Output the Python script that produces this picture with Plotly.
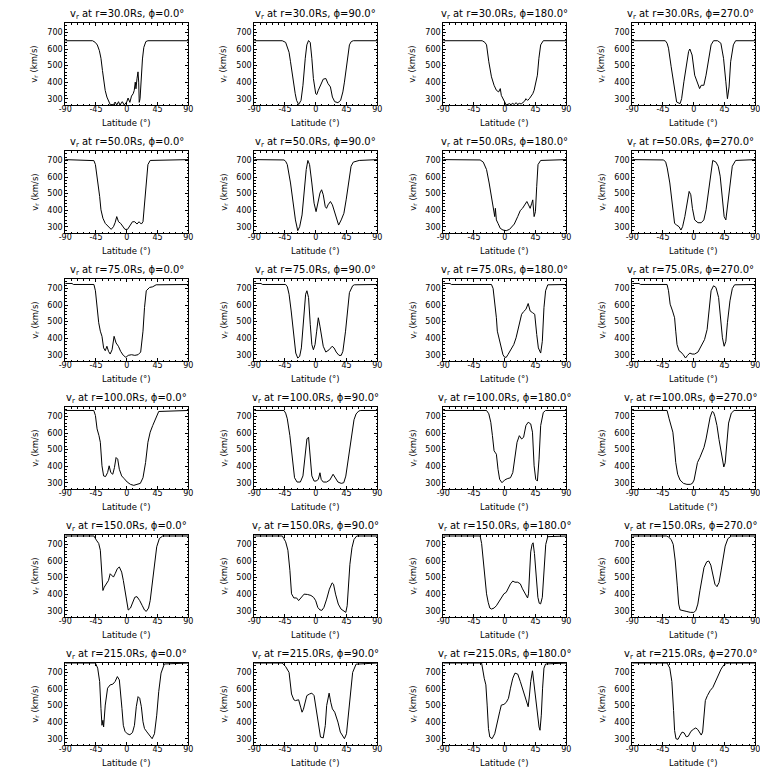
import plotly.graph_objects as go

radii = ["30.0", "50.0", "75.0", "100.0", "150.0", "215.0"]
phis = ["0.0", "90.0", "180.0", "270.0"]
x_ticks = [-90, -45, 0, 45, 90]
y_ticks = [300, 400, 500, 600, 700]
y_range = [262, 757]

# ---- r = 30 Rs ----
lat_r30_p0 = [-90, -50, -46, -43, -40, -37.7, -35.5, -33.8, -31.5, -29, -26, -24, -21.5, -19.4, -17, -14.6, -12, -10, -6.5, -3.6, 0, 2, 4.6, 7, 9.4, 11, 12.5, 13.5, 15, 16.5, 17.5, 18.3, 19.5, 21, 23, 25, 28, 31, 90]
v_r30_p0 = [650, 650, 640, 624, 590, 544, 470, 402, 350, 310, 275, 263, 265, 263, 280, 262, 282, 262, 282, 262, 280, 304, 278, 316, 330, 350, 400, 360, 420, 462, 400, 278, 300, 420, 540, 610, 645, 650, 650]
lat_r30_p90 = [-90, -49, -44, -41.6, -39, -36.9, -34.5, -32, -30, -28, -25, -21.5, -18.7, -15.3, -13, -10.5, -8, -5.7, -3.4, 0, 1.5, 3.8, 7, 11, 14.8, 18, 21.5, 24.4, 27.8, 32.5, 36.4, 39.7, 42, 44.5, 47, 49.3, 52, 55, 90]
v_r30_p90 = [650, 650, 640, 615, 580, 523, 450, 381, 330, 290, 265, 290, 381, 544, 625, 651, 639, 544, 422, 330, 325, 351, 381, 418, 422, 391, 371, 310, 282, 276, 290, 341, 400, 483, 570, 625, 645, 650, 650]
lat_r30_p180 = [-90, -33, -29, -26.6, -23.3, -19.4, -15.6, -12.2, -8.9, -6.5, -5, -3, 0, 2, 7, 9, 11.8, 14, 16.6, 19, 21.4, 24, 26, 29, 31, 33.4, 36, 38, 41, 43, 45.5, 47.8, 50, 52.6, 56.4, 90]
v_r30_p180 = [650, 650, 640, 625, 523, 432, 381, 351, 341, 361, 320, 300, 280, 262, 270, 264, 272, 264, 276, 266, 272, 268, 276, 285, 300, 290, 300, 310, 330, 351, 400, 442, 544, 625, 650, 650]
lat_r30_p270 = [-90, -41.6, -39, -36.9, -33, -28, -25, -20, -17.7, -14.4, -10.5, -7.5, -5.7, -2.4, 1.4, 5.3, 8.6, 11, 14.8, 18, 21.5, 25.4, 29, 35, 39.7, 43.6, 47, 49.3, 51.7, 54, 58, 61.3, 90]
v_r30_p270 = [650, 650, 635, 605, 493, 361, 280, 270, 300, 402, 523, 585, 600, 564, 442, 391, 361, 381, 381, 442, 523, 625, 650, 650, 635, 544, 402, 300, 371, 523, 625, 650, 650]

# ---- r = 50 Rs ----
lat_r50_p0 = [-90, -50.6, -48, -45.8, -42.5, -39.6, -37.7, -34.8, -31.4, -26.6, -22.8, -19.4, -17, -14.6, -12, -8.9, -6, -2.6, 1.2, 4.6, 8.4, 11.8, 15, 18, 21.4, 23.8, 26, 28.6, 31, 34.3, 60, 90]
v_r50_p0 = [705, 703, 699, 675, 584, 483, 402, 351, 320, 296, 284, 300, 324, 361, 330, 320, 304, 284, 284, 310, 330, 330, 316, 330, 316, 330, 442, 605, 675, 700, 702, 705]
lat_r50_p90 = [-90, -46.4, -44, -41.6, -36.9, -33, -29.7, -26.3, -23.5, -20, -16.8, -13.9, -11.5, -9, -5.7, -2.4, 0.5, 3.8, 6.2, 8.6, 11, 13.9, 15.8, 18, 21.5, 24.4, 27.8, 31, 33.5, 37.3, 41.2, 44.5, 48.3, 51.7, 55, 63.6, 90]
v_r50_p90 = [705, 703, 695, 675, 564, 442, 341, 276, 300, 371, 523, 645, 700, 675, 564, 442, 391, 462, 503, 523, 493, 422, 411, 432, 452, 432, 385, 351, 310, 341, 381, 462, 584, 665, 690, 700, 705]
lat_r50_p180 = [-90, -36, -31.4, -26.6, -22.8, -19.4, -17, -14.6, -13.7, -12.2, -9.8, -6.5, -2.6, 2.2, 7, 10.3, 14, 19, 22.8, 26, 29.5, 32.4, 34.8, 37.2, 39.6, 41, 43, 44.9, 46.8, 48.7, 52.6, 90]
v_r50_p180 = [705, 703, 690, 645, 564, 483, 411, 361, 411, 341, 320, 290, 280, 276, 284, 300, 316, 361, 398, 411, 432, 452, 432, 411, 442, 462, 361, 391, 544, 675, 700, 705]
lat_r50_p270 = [-90, -44, -41, -38.8, -35, -32, -28, -25, -21.5, -18.7, -16.3, -13, -9.6, -6.7, -4.3, -1.9, 1.4, 6.2, 11, 14.8, 18, 21.5, 24.4, 27.8, 32.5, 35.8, 38.7, 42, 44.5, 47, 49.3, 53, 56.4, 61.3, 90]
v_r50_p270 = [705, 703, 690, 655, 564, 442, 320, 310, 300, 280, 300, 361, 442, 513, 493, 411, 341, 324, 324, 341, 402, 503, 605, 700, 690, 665, 605, 483, 361, 341, 422, 564, 665, 700, 705]

# ---- r = 75 Rs ----
lat_r75_p0 = [-90, -80, -78, -48, -45.8, -43.4, -41, -38.6, -36.2, -33.8, -31.4, -29, -26.6, -24.2, -21.4, -18.5, -15.6, -12.2, -8.9, -5, -1.2, 2.2, 7, 11.8, 16.6, 20.4, 23.8, 26, 28.6, 33.4, 38, 43, 90]
v_r75_p0 = [730, 730, 724, 724, 686, 584, 493, 442, 411, 341, 324, 351, 320, 304, 330, 411, 371, 351, 320, 296, 284, 296, 300, 296, 300, 316, 442, 584, 686, 706, 710, 722, 724]
lat_r75_p90 = [-90, -80, -78, -44, -41.5, -39, -35.9, -32, -29.2, -26.3, -23.5, -21, -17.7, -14.8, -12.9, -10.5, -8, -5.7, -3.4, -1, 1.4, 3.8, 6.2, 8.6, 11, 14.8, 19.6, 24, 26.8, 30, 34, 37.3, 39.7, 43.6, 47, 49.3, 54, 56.5, 90]
v_r75_p90 = [730, 730, 724, 724, 710, 665, 564, 422, 310, 280, 290, 341, 523, 665, 686, 645, 483, 361, 330, 361, 442, 523, 472, 411, 351, 316, 330, 351, 341, 316, 296, 296, 320, 442, 584, 675, 716, 722, 724]
lat_r75_p180 = [-90, -80, -78, -19.4, -17, -14.6, -12.2, -10.8, -8.9, -7, -5, -2.6, -0.2, 2.2, 4.6, 9.4, 13.2, 16.6, 19, 21.4, 24.7, 27.6, 31, 34.3, 37.2, 40.6, 43.9, 46.8, 49.2, 52.6, 55, 57.4, 59.8, 63, 90]
v_r75_p180 = [730, 730, 724, 724, 700, 625, 523, 442, 411, 371, 330, 300, 285, 284, 300, 330, 361, 402, 442, 500, 544, 560, 574, 609, 564, 554, 544, 422, 341, 310, 381, 584, 686, 722, 724]
lat_r75_p270 = [-90, -80, -78, -39, -36.9, -34.5, -31, -28, -26.3, -24.4, -21.5, -18.7, -15.3, -12, -9, -5.7, -2.4, 1.4, 6.2, 11, 15.8, 19.6, 23, 25.4, 29, 32.5, 36.4, 39.7, 42, 44.5, 47, 49.3, 53, 56.5, 59.8, 90]
v_r75_p270 = [730, 730, 724, 724, 686, 605, 564, 523, 442, 361, 324, 316, 300, 280, 296, 310, 304, 304, 316, 351, 391, 452, 584, 686, 716, 706, 645, 523, 402, 351, 381, 493, 625, 700, 722, 724]

# ---- r = 100 Rs ----
lat_r100_p0 = [-90, -48.2, -45.8, -43.4, -40.6, -38.6, -36.2, -33.8, -31, -28, -25.7, -23.3, -20.4, -18, -15.6, -13.2, -10.8, -7.4, -3.6, 0.7, 5.5, 10.3, 15, 19.9, 23.8, 27.6, 31, 34.3, 38, 43, 46.8, 90]
v_r100_p0 = [736, 736, 706, 625, 584, 544, 402, 341, 337, 361, 402, 361, 351, 391, 452, 442, 381, 341, 324, 304, 290, 284, 290, 296, 330, 422, 544, 605, 645, 696, 730, 736]
lat_r100_p90 = [-90, -46.4, -44, -41.6, -37.8, -34.5, -31, -27.3, -22.5, -18.7, -15.3, -12.9, -10.5, -8, -5.7, -2.4, 0.5, 3.8, 6.2, 8, 11, 15.8, 20.6, 25.4, 29, 32.5, 37.3, 41, 44, 47, 50, 53, 56, 59, 63, 66, 90]
v_r100_p90 = [736, 736, 720, 686, 584, 442, 330, 304, 304, 341, 462, 564, 575, 442, 341, 310, 310, 320, 360, 320, 304, 304, 316, 351, 324, 304, 296, 300, 340, 430, 530, 620, 680, 715, 733, 736, 736]
lat_r100_p180 = [-90, -26.6, -23.3, -20.4, -18, -15.6, -13.5, -12.2, -9.8, -7.4, -4, -0.2, 3.6, 8.4, 11.8, 15, 18, 21.4, 24.7, 27.6, 31, 34.3, 38, 40.6, 43, 45.4, 47.8, 50.2, 52.6, 56.4, 59.8, 90]
v_r100_p180 = [736, 736, 716, 665, 584, 493, 480, 472, 381, 320, 300, 316, 324, 330, 361, 442, 544, 584, 564, 574, 645, 665, 655, 605, 402, 320, 310, 442, 645, 724, 736, 736]
lat_r100_p270 = [-90, -39, -36, -33, -30.5, -28, -26.3, -23.5, -20, -15, -10, -5, -2, 0.5, 3, 5.5, 9, 12, 15, 18, 21, 24, 27, 29, 31, 34, 37, 40, 42, 44, 46, 48, 51, 55, 59, 90]
v_r100_p270 = [736, 736, 686, 645, 605, 503, 422, 351, 316, 296, 290, 290, 296, 316, 361, 422, 452, 483, 513, 564, 625, 696, 730, 725, 700, 645, 560, 480, 420, 395, 420, 540, 660, 720, 736, 736]

# ---- r = 150 Rs ----
lat_r150_p0 = [-90, -48, -44.4, -41, -38.6, -36.2, -34.8, -32.9, -30, -26.6, -24.2, -21.8, -19.4, -17, -13.7, -10.8, -7.4, -5, -2.6, -0.2, 2.2, 5.5, 8.4, 11.8, 15, 19, 22.8, 26, 28.6, 31.9, 34.3, 37.2, 40.6, 43.9, 47.8, 52.6, 90]
v_r150_p0 = [751, 751, 726, 706, 665, 544, 422, 442, 462, 483, 523, 513, 503, 523, 554, 564, 533, 483, 422, 341, 304, 316, 351, 381, 385, 361, 330, 304, 296, 316, 361, 462, 584, 686, 736, 751, 751]
lat_r150_p90 = [-90, -48.8, -44, -40.7, -37.8, -35.4, -32, -28, -25, -21.5, -17, -12, -7, -3, 0, 3, 6, 9, 12, 16, 20, 24, 26, 29, 33, 37, 41, 44, 46, 48, 50, 53, 56, 60, 90]
v_r150_p90 = [751, 751, 716, 665, 544, 402, 377, 377, 361, 377, 400, 398, 392, 380, 360, 320, 305, 302, 320, 370, 430, 468, 460, 400, 340, 310, 296, 290, 330, 450, 580, 680, 730, 751, 751]
lat_r150_p180 = [-90, -36, -33.8, -31.4, -29, -26.6, -24.2, -21.8, -19.4, -15.6, -12.2, -8.9, -5, -1.2, 2.2, 5.5, 8.4, 11.8, 15, 19, 22.8, 26, 28.6, 31, 33.4, 34.8, 36.2, 38, 40, 41.5, 43.5, 46, 48.5, 50.5, 52.5, 55, 57.5, 60, 63, 90]
v_r150_p180 = [751, 751, 706, 605, 493, 402, 351, 316, 310, 316, 330, 351, 381, 402, 411, 442, 462, 479, 472, 472, 462, 432, 411, 391, 377, 402, 544, 655, 700, 710, 645, 483, 381, 345, 341, 381, 560, 700, 747, 751]
lat_r150_p270 = [-90, -40, -37, -33, -30, -27, -24, -22, -20, -15, -10, -5, 0, 3, 6, 9, 12, 15, 19, 22, 25, 28, 31, 34, 37, 40, 43, 46, 50, 55, 90]
v_r150_p270 = [751, 751, 745, 730, 700, 600, 450, 340, 305, 298, 295, 290, 290, 300, 340, 420, 500, 560, 595, 600, 575, 520, 460, 445, 470, 540, 620, 690, 735, 751, 751]

# ---- r = 215 Rs ----
lat_r215_p0 = [-90, -45.8, -42.5, -39.6, -37.7, -36.2, -34.8, -33.8, -31.4, -28, -24.2, -20.4, -17, -13.7, -10.8, -8.9, -7, -5, -2.6, 0.7, 4.6, 8.4, 11.3, 14, 16.6, 19, 21.4, 23.8, 26, 29.5, 33.4, 37.2, 40.6, 43.9, 46.8, 50.2, 55, 90]
v_r215_p0 = [757, 757, 726, 645, 483, 381, 411, 371, 503, 605, 625, 629, 645, 675, 655, 584, 483, 381, 345, 330, 324, 337, 381, 493, 554, 544, 493, 402, 361, 341, 316, 300, 330, 442, 584, 696, 751, 757]
lat_r215_p90 = [-90, -49, -44, -39, -35.4, -32, -29.7, -25, -22, -20, -18, -15, -13, -9, -5.7, -2.4, 0.5, 3.8, 7, 11, 14, 16, 19.6, 22, 24.4, 27.8, 32.5, 36, 39.7, 42, 45, 49.3, 52, 54, 59, 90]
v_r215_p90 = [757, 757, 735, 700, 570, 535, 530, 535, 490, 460, 478, 520, 560, 570, 575, 560, 480, 400, 310, 305, 380, 500, 575, 520, 480, 460, 400, 340, 310, 300, 330, 500, 640, 700, 750, 757]
lat_r215_p180 = [-90, -33.8, -30, -27.6, -25.7, -23.8, -21.8, -18.5, -14.6, -10.8, -7.4, -5, -1.2, 2.2, 5.5, 8.4, 11.8, 15, 19, 22.8, 26, 29.5, 32.4, 34.3, 36.2, 38, 40.6, 43, 45.4, 47.8, 50.2, 51.6, 53.5, 55.4, 57.4, 59.8, 90]
v_r215_p180 = [757, 757, 665, 625, 503, 361, 310, 300, 330, 391, 462, 503, 507, 519, 544, 605, 665, 696, 690, 645, 605, 564, 523, 493, 564, 645, 710, 625, 523, 442, 371, 351, 442, 605, 726, 751, 757]
lat_r215_p270 = [-90, -39, -35, -32, -29.5, -28, -26, -23, -20, -17, -14, -11, -8, -4, 0, 3, 6, 9, 11, 13, 15, 17, 20, 24, 28, 32, 36, 40, 44, 48, 52, 90]
v_r215_p270 = [757, 757, 726, 645, 470, 350, 300, 296, 320, 340, 335, 312, 315, 345, 358, 365, 355, 330, 322, 340, 460, 530, 560, 590, 610, 650, 690, 720, 745, 755, 757, 757]

series = [
    [(lat_r30_p0, v_r30_p0), (lat_r30_p90, v_r30_p90), (lat_r30_p180, v_r30_p180), (lat_r30_p270, v_r30_p270)],
    [(lat_r50_p0, v_r50_p0), (lat_r50_p90, v_r50_p90), (lat_r50_p180, v_r50_p180), (lat_r50_p270, v_r50_p270)],
    [(lat_r75_p0, v_r75_p0), (lat_r75_p90, v_r75_p90), (lat_r75_p180, v_r75_p180), (lat_r75_p270, v_r75_p270)],
    [(lat_r100_p0, v_r100_p0), (lat_r100_p90, v_r100_p90), (lat_r100_p180, v_r100_p180), (lat_r100_p270, v_r100_p270)],
    [(lat_r150_p0, v_r150_p0), (lat_r150_p90, v_r150_p90), (lat_r150_p180, v_r150_p180), (lat_r150_p270, v_r150_p270)],
    [(lat_r215_p0, v_r215_p0), (lat_r215_p90, v_r215_p90), (lat_r215_p180, v_r215_p180), (lat_r215_p270, v_r215_p270)],
]

S = 768
FONT = "DejaVu Sans"


def px(xp):
    return xp / S


def py(yp):
    return 1 - yp / S


fig = go.Figure()
annotations = []
layout_axes = {}

for r in range(6):
    for c in range(4):
        idx = r * 4 + c + 1
        sfx = "" if idx == 1 else str(idx)
        lat, v = series[r][c]
        fig.add_trace(go.Scatter(x=lat, y=v, mode="lines",
                                 line=dict(color="black", width=1),
                                 xaxis="x" + sfx, yaxis="y" + sfx,
                                 showlegend=False, hoverinfo="skip"))
        left = 51 + 192 * c
        right = 176 + 192 * c
        top = 15 + 128 * r
        bottom = 97 + 128 * r
        common = dict(showline=True, linecolor="black", linewidth=1, mirror="allticks",
                      ticks="inside", ticklen=3, tickwidth=1, tickcolor="black",
                      showgrid=False, zeroline=False,
                      tickfont=dict(family=FONT, size=8, color="black"))
        layout_axes["xaxis" + sfx] = dict(
            domain=[px(left), px(right)], anchor="y" + sfx, range=[-90, 90],
            tickmode="array", tickvals=x_ticks, ticktext=[str(t) for t in x_ticks],
            ticklabelstandoff=-4,
            minor=dict(ticks="inside", ticklen=1.5, tickcolor="black", tickmode="linear", tick0=-90, dtick=9),
            **common)
        layout_axes["yaxis" + sfx] = dict(
            domain=[py(bottom), py(top)], anchor="x" + sfx, range=y_range,
            tickmode="array", tickvals=y_ticks, ticktext=[str(t) for t in y_ticks],
            minor=dict(ticks="inside", ticklen=1.5, tickcolor="black", tickmode="linear", tick0=300, dtick=20),
            **common)
        cx = (left + right) / 2
        if c == 3:
            cx -= 3
        annotations.append(dict(
            text=f"v<sub>r</sub> at r={radii[r]}Rs, ϕ={phis[c]}°",
            x=px(cx), y=py(top - 8.5), xref="paper", yref="paper",
            xanchor="center", yanchor="middle", showarrow=False,
            font=dict(family=FONT, size=10, color="black")))
        annotations.append(dict(
            text="v<sub>r</sub> (km/s)", textangle=-90,
            x=px(left - 31), y=py((top + bottom) / 2), xref="paper", yref="paper",
            xanchor="center", yanchor="middle", showarrow=False,
            font=dict(family=FONT, size=8.5, color="black")))
        annotations.append(dict(
            text="Latitude (°)",
            x=px((left + right) / 2), y=py(bottom + 18), xref="paper", yref="paper",
            xanchor="center", yanchor="middle", showarrow=False,
            font=dict(family=FONT, size=8.5, color="black")))

fig.update_layout(width=S, height=S, margin=dict(l=0, r=0, t=0, b=0),
                  paper_bgcolor="white", plot_bgcolor="white",
                  annotations=annotations, **layout_axes)
fig.write_html("out.html")
